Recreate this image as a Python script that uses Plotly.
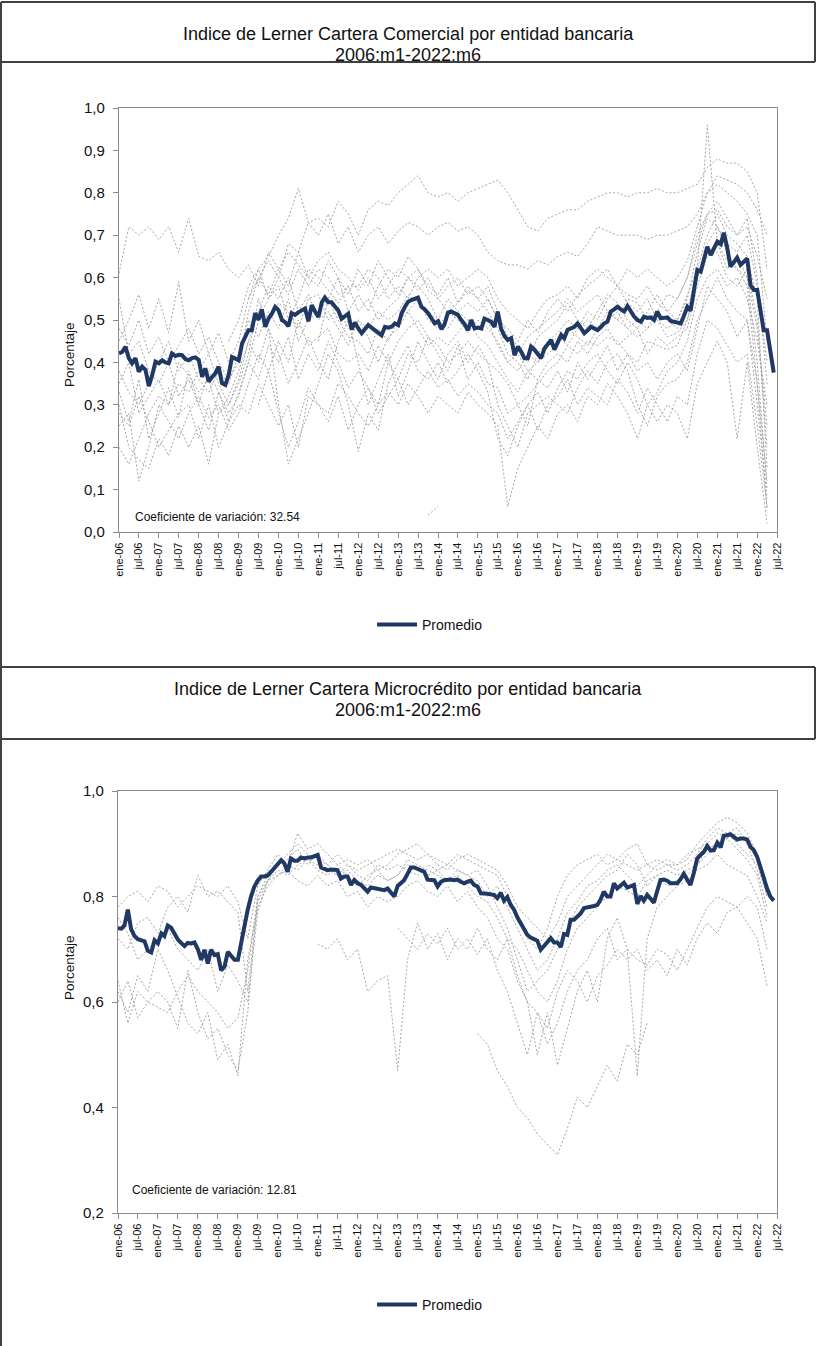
import pandas as pd
import plotly.graph_objects as go

# Monthly axis for the averages, quarterly axis for the individual banks
MESES = pd.date_range("2006-01-01", "2022-06-01", freq="MS")
TRIMESTRES = pd.date_range("2006-01-01", "2022-04-01", freq="QS")

TICK_FECHAS = pd.date_range("2006-01-01", "2022-07-01", freq="6MS")
TICK_LABELS = [f"{m}-{a:02d}" for a in range(6, 23) for m in ("ene", "jul")]

COEF_COM = "Coeficiente de variación: 32.54"
COEF_MIC = "Coeficiente de variación: 12.81"

# Promedio - cartera comercial (2006m1 - 2022m6)
PROM_COM = [
    0.421, 0.425, 0.437, 0.410, 0.398, 0.410, 0.378, 0.390, 0.382, 0.344, 0.370, 0.402,
    0.398, 0.405, 0.400, 0.398, 0.421, 0.415, 0.418, 0.417, 0.408, 0.405, 0.410, 0.412,
    0.406, 0.366, 0.386, 0.355, 0.365, 0.374, 0.390, 0.351, 0.347, 0.370, 0.413, 0.410,
    0.405, 0.445, 0.460, 0.476, 0.476, 0.516, 0.500, 0.525, 0.484, 0.503, 0.515, 0.531,
    0.523, 0.500, 0.495, 0.485, 0.516, 0.512, 0.518, 0.523, 0.527, 0.497, 0.535, 0.520,
    0.507, 0.542, 0.553, 0.542, 0.542, 0.532, 0.523, 0.503, 0.510, 0.515, 0.478, 0.494,
    0.480, 0.469, 0.478, 0.488, 0.482, 0.476, 0.470, 0.464, 0.484, 0.482, 0.484, 0.492,
    0.488, 0.516, 0.530, 0.543, 0.547, 0.550, 0.553, 0.531, 0.525, 0.516, 0.505, 0.492,
    0.497, 0.478, 0.490, 0.517, 0.520, 0.515, 0.512, 0.500, 0.490, 0.476, 0.500, 0.480,
    0.482, 0.480, 0.503, 0.500, 0.496, 0.484, 0.520, 0.479, 0.462, 0.453, 0.457, 0.417,
    0.437, 0.425, 0.410, 0.410, 0.437, 0.430, 0.421, 0.410, 0.433, 0.443, 0.453, 0.430,
    0.445, 0.465, 0.457, 0.477, 0.480, 0.484, 0.492, 0.480, 0.469, 0.476, 0.484, 0.480,
    0.476, 0.484, 0.492, 0.496, 0.520, 0.525, 0.531, 0.525, 0.520, 0.533, 0.520, 0.508,
    0.500, 0.496, 0.508, 0.505, 0.506, 0.500, 0.520, 0.504, 0.505, 0.506, 0.498, 0.496,
    0.494, 0.492, 0.510, 0.531, 0.522, 0.570, 0.618, 0.614, 0.645, 0.673, 0.653, 0.668,
    0.685, 0.679, 0.706, 0.670, 0.626, 0.636, 0.647, 0.630, 0.638, 0.645, 0.582, 0.571,
    0.571, 0.520, 0.476, 0.476, 0.426, 0.376,
]

# Promedio - cartera microcredito (2006m1 - 2022m6)
PROM_MIC = [
    0.740, 0.739, 0.745, 0.775, 0.738, 0.725, 0.719, 0.717, 0.715, 0.697, 0.694, 0.717,
    0.711, 0.730, 0.725, 0.745, 0.741, 0.730, 0.719, 0.712, 0.706, 0.712, 0.711, 0.713,
    0.700, 0.680, 0.699, 0.673, 0.699, 0.689, 0.691, 0.660, 0.667, 0.695, 0.688, 0.680,
    0.680, 0.715, 0.743, 0.775, 0.800, 0.819, 0.830, 0.838, 0.838, 0.840, 0.847, 0.855,
    0.862, 0.869, 0.863, 0.847, 0.872, 0.868, 0.868, 0.874, 0.872, 0.874, 0.874, 0.876,
    0.879, 0.855, 0.852, 0.850, 0.851, 0.850, 0.850, 0.834, 0.838, 0.838, 0.822, 0.831,
    0.825, 0.822, 0.815, 0.809, 0.817, 0.816, 0.815, 0.814, 0.812, 0.815, 0.808, 0.800,
    0.820, 0.825, 0.831, 0.843, 0.855, 0.855, 0.853, 0.850, 0.847, 0.832, 0.831, 0.831,
    0.819, 0.828, 0.831, 0.832, 0.832, 0.831, 0.832, 0.828, 0.825, 0.828, 0.830, 0.822,
    0.819, 0.806, 0.806, 0.805, 0.804, 0.803, 0.797, 0.807, 0.792, 0.799, 0.784, 0.775,
    0.760, 0.749, 0.738, 0.727, 0.722, 0.718, 0.716, 0.699, 0.706, 0.714, 0.721, 0.713,
    0.713, 0.704, 0.729, 0.727, 0.756, 0.756, 0.762, 0.768, 0.778, 0.779, 0.781, 0.782,
    0.784, 0.795, 0.809, 0.800, 0.800, 0.825, 0.815, 0.820, 0.826, 0.817, 0.820, 0.822,
    0.786, 0.801, 0.792, 0.803, 0.796, 0.788, 0.810, 0.831, 0.832, 0.830, 0.825, 0.825,
    0.825, 0.833, 0.843, 0.832, 0.822, 0.845, 0.872, 0.879, 0.885, 0.896, 0.887, 0.888,
    0.902, 0.893, 0.915, 0.916, 0.918, 0.913, 0.908, 0.910, 0.910, 0.908, 0.894, 0.888,
    0.875, 0.855, 0.835, 0.815, 0.800, 0.792,
]

# Entidades - cartera comercial (trimestral, 2006q1 - 2022q2)
COM_B01 = [0.61, 0.72, 0.70, 0.72, 0.69, 0.72, 0.66, 0.74, 0.65, 0.64, 0.66, 0.62,
           0.60, 0.63, 0.58, 0.66, 0.62, 0.66, 0.63, 0.60, 0.64, 0.66, 0.62, 0.60,
           0.57, 0.60, 0.55, 0.58, 0.62, 0.60, 0.57, 0.60, 0.55, 0.58, 0.60, 0.56,
           0.58, 0.55, 0.50, 0.48, 0.45, 0.50, 0.47, 0.52, 0.55, 0.52, 0.56, 0.58,
           0.60, 0.62, 0.58, 0.56, 0.55, 0.58, 0.54, 0.52, 0.55, 0.60, 0.70, 0.75,
           0.78, 0.74, 0.70, 0.72, 0.65, 0.55]
COM_B02 = [None] * 13 + [
           0.55, 0.62, 0.65, 0.70, 0.74, 0.81, 0.73, 0.74, 0.72, 0.78, 0.75,
           0.70, 0.76, 0.78, 0.77, 0.80, 0.82, 0.84, 0.80, 0.79, 0.80, 0.78, 0.80,
           0.81, 0.82, 0.83, 0.80, 0.76, 0.72, 0.71, 0.74, 0.75, 0.76, 0.76, 0.78,
           0.79, 0.80, 0.80, 0.79, 0.80, 0.80, 0.81, 0.80, 0.80, 0.81, 0.82, 0.86,
           0.88, 0.87, 0.87, 0.85, 0.80, 0.62]
COM_B03 = [0.45, 0.50, 0.56, 0.48, 0.55, 0.47, 0.59, 0.45, 0.50, 0.42, 0.47, 0.40,
           0.45, 0.55, 0.60, 0.64, 0.60, 0.68, 0.66, 0.73, 0.70, 0.75, 0.68, 0.72,
           0.66, 0.70, 0.72, 0.68, 0.71, 0.73, 0.72, 0.70, 0.72, 0.73, 0.71, 0.72,
           0.70, 0.66, 0.64, 0.63, 0.63, 0.62, 0.64, 0.63, 0.65, 0.66, 0.65, 0.68,
           0.72, 0.71, 0.70, 0.70, 0.70, 0.69, 0.70, 0.70, 0.71, 0.72, 0.75, 0.80,
           0.84, 0.83, 0.82, 0.80, 0.76, 0.70]
COM_B04 = [0.30, 0.20, 0.17, 0.15, 0.22, 0.18, 0.25, 0.20, 0.25, 0.16, 0.28, 0.30,
           0.36, 0.45, 0.40, 0.48, 0.30, 0.16, 0.22, 0.28, 0.35, 0.42, 0.38, 0.30,
           0.19, 0.28, 0.24, 0.35, 0.40, 0.44, 0.38, 0.36, 0.40, 0.35, 0.38, 0.42,
           0.38, 0.33, 0.22, 0.18, 0.25, 0.30, 0.33, 0.28, 0.34, 0.38, 0.36, 0.40,
           0.42, 0.38, 0.35, 0.40, 0.36, 0.30, 0.33, 0.38, 0.40, 0.45, 0.55, 0.60,
           0.62, 0.58, 0.60, 0.55, 0.45, 0.30]
COM_B05 = [0.25, 0.28, 0.12, 0.20, 0.30, 0.26, 0.22, 0.28, 0.32, 0.27, 0.30, 0.24,
           0.28, 0.35, 0.42, 0.38, 0.45, 0.40, 0.50, 0.44, 0.46, 0.48, 0.42, 0.40,
           0.42, 0.38, 0.44, 0.40, 0.45, 0.48, 0.50, 0.46, 0.44, 0.40, 0.42, 0.45,
           0.42, 0.40, 0.38, 0.35, 0.30, 0.32, 0.35, 0.38, 0.40, 0.44, 0.42, 0.45,
           0.44, 0.46, 0.45, 0.42, 0.40, 0.45, 0.44, 0.43, 0.44, 0.50, 0.60, 0.68,
           0.72, 0.66, 0.62, 0.58, 0.35, 0.05]
COM_B06 = [0.55, 0.42, 0.45, 0.38, 0.35, 0.40, 0.32, 0.36, 0.30, 0.38, 0.33, 0.26,
           0.33, 0.40, 0.50, 0.55, 0.58, 0.50, 0.55, 0.62, 0.60, 0.57, 0.54, 0.58,
           0.52, 0.55, 0.50, 0.53, 0.55, 0.60, 0.62, 0.57, 0.55, 0.52, 0.54, 0.58,
           0.55, 0.52, 0.48, 0.42, 0.40, 0.36, 0.42, 0.45, 0.47, 0.50, 0.48, 0.52,
           0.50, 0.55, 0.58, 0.54, 0.52, 0.55, 0.50, 0.48, 0.50, 0.56, 0.62, 0.70,
           0.75, 0.70, 0.68, 0.65, 0.55, 0.15]
COM_B07 = [0.38, 0.33, 0.30, 0.35, 0.40, 0.45, 0.38, 0.42, 0.36, 0.33, 0.38, 0.35,
           0.42, 0.50, 0.46, 0.52, 0.48, 0.55, 0.45, 0.50, 0.52, 0.55, 0.50, 0.46,
           0.45, 0.42, 0.48, 0.45, 0.50, 0.52, 0.55, 0.50, 0.48, 0.52, 0.50, 0.47,
           0.50, 0.48, 0.45, 0.40, 0.38, 0.42, 0.40, 0.44, 0.46, 0.44, 0.48, 0.50,
           0.48, 0.52, 0.50, 0.48, 0.46, 0.48, 0.52, 0.50, 0.48, 0.52, 0.62, 0.96,
           0.68, 0.62, 0.65, 0.60, 0.40, 0.10]
COM_B08 = [0.20, 0.16, 0.22, 0.28, 0.32, 0.30, 0.35, 0.33, 0.38, 0.42, 0.35, 0.30,
           0.35, 0.42, 0.55, 0.48, 0.42, 0.35, 0.40, 0.46, 0.40, 0.36, 0.45, 0.50,
           0.40, 0.30, 0.36, 0.42, 0.32, 0.38, 0.45, 0.40, 0.36, 0.42, 0.45, 0.40,
           0.44, 0.40, 0.30, 0.25, 0.20, 0.28, 0.30, 0.32, 0.30, 0.28, 0.34, 0.38,
           0.35, 0.40, 0.42, 0.38, 0.30, 0.25, 0.32, 0.35, 0.36, 0.40, 0.50, 0.55,
           0.60, 0.55, 0.52, 0.50, 0.30, 0.08]
COM_B09 = [None] * 11 + [
           0.45, 0.50, 0.58, 0.62, 0.55, 0.60, 0.56, 0.62, 0.58, 0.62, 0.60, 0.56, 0.58,
           0.58, 0.62, 0.60, 0.55, 0.58, 0.55, 0.60, 0.62, 0.60, 0.62, 0.58, 0.60,
           0.62, 0.60, 0.55, 0.52, 0.50, 0.48, 0.52, 0.55, 0.56, 0.58, 0.55, 0.60,
           0.62, 0.60, 0.58, 0.62, 0.60, 0.62, 0.60, 0.58, 0.60, 0.64, 0.72, 0.80,
           0.82, 0.80, 0.78, 0.75, 0.70, 0.45]
COM_B10 = [0.28, 0.25, 0.32, 0.26, 0.20, 0.24, 0.28, 0.30, 0.22, 0.30, 0.20, 0.26,
           0.30, 0.28, 0.35, 0.30, 0.25, 0.30, 0.20, 0.32, 0.30, 0.28, 0.35, 0.32,
           0.28, 0.25, 0.30, 0.33, 0.30, 0.35, 0.32, 0.28, 0.32, 0.30, 0.28, 0.33,
           0.30, 0.28, 0.25, 0.06, 0.15, 0.20, 0.25, 0.22, 0.28, 0.30, 0.26, 0.32,
           0.30, 0.35, 0.32, 0.28, 0.22, 0.30, 0.26, 0.30, 0.28, 0.22, 0.35, 0.40,
           0.45, 0.40, 0.22, 0.40, 0.20, 0.02]
COM_B11 = [None] * 20 + [
           0.45, 0.55, 0.60, 0.56, 0.62, 0.58, 0.64, 0.60, 0.56, 0.60, 0.58, 0.55,
           0.50, 0.55, 0.52, 0.54, 0.52, 0.55, 0.50, 0.45, 0.42, 0.46, 0.48, 0.50,
           0.52, 0.55, 0.52, 0.54, 0.56, 0.52, 0.50, 0.55, 0.54, 0.50, 0.52, 0.56,
           0.55, 0.60, 0.68, 0.75, 0.76, 0.72, 0.70, 0.74, 0.60, 0.35]
COM_B12 = [None] * 31 + [0.04, 0.06] + [None] * 33
COM_B13 = [0.35, 0.40, 0.28, 0.32, 0.36, 0.30, 0.40, 0.37, 0.33, 0.36, 0.28, 0.32,
           0.38, 0.45, 0.52, 0.58, 0.55, 0.60, 0.52, 0.56, 0.50, 0.52, 0.48, 0.44,
           0.50, 0.46, 0.40, 0.46, 0.48, 0.52, 0.48, 0.44, 0.46, 0.44, 0.47, 0.50,
           0.46, 0.44, 0.40, 0.36, 0.33, 0.38, 0.36, 0.40, 0.42, 0.40, 0.45, 0.42,
           0.46, 0.48, 0.44, 0.46, 0.48, 0.42, 0.46, 0.44, 0.46, 0.48, 0.58, 0.65,
           0.66, 0.60, 0.58, 0.62, 0.50, 0.20]
COM_B14 = [0.33, 0.26, 0.36, 0.22, 0.28, 0.34, 0.27, 0.38, 0.30, 0.24, 0.33, 0.28,
           0.32, 0.40, 0.36, 0.44, 0.40, 0.46, 0.36, 0.42, 0.38, 0.45, 0.40, 0.34,
           0.38, 0.34, 0.30, 0.40, 0.36, 0.42, 0.40, 0.46, 0.42, 0.38, 0.44, 0.36,
           0.40, 0.35, 0.34, 0.28, 0.30, 0.25, 0.36, 0.34, 0.38, 0.33, 0.40, 0.36,
           0.40, 0.44, 0.38, 0.42, 0.38, 0.40, 0.36, 0.40, 0.42, 0.38, 0.48, 0.58,
           0.55, 0.52, 0.46, 0.50, 0.35, 0.12]
COM_B15 = [None] * 12 + [
           0.40, 0.52, 0.60, 0.56, 0.62, 0.58, 0.66, 0.60, 0.58, 0.64, 0.60, 0.52,
           0.56, 0.52, 0.58, 0.62, 0.60, 0.65, 0.62, 0.58, 0.56, 0.60, 0.54, 0.57,
           0.55, 0.58, 0.52, 0.46, 0.44, 0.40, 0.46, 0.48, 0.50, 0.54, 0.50, 0.48,
           0.52, 0.56, 0.54, 0.50, 0.48, 0.52, 0.56, 0.52, 0.50, 0.55, 0.66, 0.74,
           0.72, 0.68, 0.66, 0.70, 0.58, 0.40]
COM_B16 = [None] * 14 + [
           0.30, 0.38, 0.28, 0.20, 0.26, 0.34, 0.30, 0.26, 0.32, 0.24,
           0.30, 0.34, 0.28, 0.32, 0.36, 0.30, 0.34, 0.38, 0.34, 0.36, 0.32, 0.35,
           0.33, 0.30, 0.28, 0.22, 0.26, 0.30, 0.24, 0.30, 0.32, 0.36, 0.30, 0.34,
           0.32, 0.30, 0.36, 0.33, 0.28, 0.34, 0.30, 0.26, 0.32, 0.30, 0.42, 0.50,
           0.48, 0.44, 0.40, 0.42, 0.25, 0.06]
COM_B17 = [0.48, 0.44, 0.50, 0.42, 0.46, 0.40, 0.44, 0.48, 0.42, 0.46, 0.40, 0.36,
           0.40, 0.48, 0.52, 0.50, 0.54, 0.52, 0.48, 0.55, 0.56, 0.50, 0.53, 0.48,
           0.50, 0.48, 0.52, 0.50, 0.52, 0.56, 0.54, 0.52, 0.50, 0.48, 0.52, 0.50,
           0.48, 0.50, 0.44, 0.40, 0.42, 0.38, 0.40, 0.42, 0.44, 0.48, 0.46, 0.44,
           0.48, 0.50, 0.52, 0.48, 0.50, 0.48, 0.50, 0.46, 0.47, 0.50, 0.60, 0.66,
           0.68, 0.64, 0.62, 0.60, 0.48, 0.25]

# Entidades - cartera microcredito (trimestral, 2006q1 - 2022q2)
MIC_B01 = [None] * 36 + [
           0.54, 0.52, 0.47, 0.44, 0.40, 0.38, 0.35, 0.33, 0.31, 0.36, 0.42, 0.40,
           0.44, 0.48, 0.45, 0.52, 0.50, 0.56] + [None] * 12
MIC_B02 = [None] * 20 + [
           0.71, 0.70, 0.72, 0.68, 0.70, 0.62, 0.64, 0.65, 0.47, 0.68, 0.75, 0.70,
           0.73, 0.68, 0.72, 0.70, 0.74, 0.70, 0.68, 0.72, 0.65, 0.60, 0.58, 0.55,
           0.62, 0.66, 0.64, 0.60, 0.65, 0.67, 0.70, 0.68, 0.70, 0.66, 0.68, 0.65,
           0.70, 0.67, 0.72, 0.75, 0.73, 0.77, 0.78, 0.75, 0.72, 0.63]
MIC_B03 = [0.60, 0.64, 0.57, 0.60, 0.62, 0.60, 0.55, 0.66, 0.58, 0.53, 0.55, 0.50,
           0.47, 0.58, 0.80, 0.84, 0.86, 0.88, 0.90, 0.88, 0.87, 0.86, 0.88, 0.86,
           0.85, 0.86, 0.87, 0.88, 0.89, 0.88, 0.87, 0.88, 0.87, 0.86, 0.88, 0.87,
           0.86, 0.85, 0.84, 0.80, 0.76, 0.72, 0.70, 0.74, 0.80, 0.84, 0.86, 0.87,
           0.88, 0.86, 0.87, 0.86, 0.85, 0.86, 0.87, 0.86, 0.86, 0.87, 0.90, 0.92,
           0.94, 0.95, 0.94, 0.92, 0.88, 0.80]
MIC_B04 = [0.78, 0.80, 0.81, 0.79, 0.82, 0.81, 0.78, 0.80, 0.82, 0.81, 0.80, 0.82,
           0.79, 0.72, 0.82, 0.85, 0.88, 0.86, 0.92, 0.89, 0.90, 0.88, 0.86, 0.87,
           0.86, 0.87, 0.85, 0.86, 0.88, 0.89, 0.90, 0.88, 0.86, 0.85, 0.87, 0.88,
           0.87, 0.86, 0.85, 0.82, 0.78, 0.76, 0.74, 0.72, 0.75, 0.80, 0.82, 0.84,
           0.86, 0.88, 0.87, 0.89, 0.90, 0.86, 0.85, 0.86, 0.85, 0.86, 0.88, 0.91,
           0.93, 0.92, 0.93, 0.90, 0.85, 0.78]
MIC_B05 = [0.72, 0.70, 0.75, 0.76, 0.73, 0.78, 0.80, 0.77, 0.84, 0.80, 0.81, 0.79,
           0.77, 0.62, 0.79, 0.83, 0.85, 0.84, 0.86, 0.87, 0.85, 0.84, 0.86, 0.84,
           0.82, 0.84, 0.85, 0.83, 0.84, 0.86, 0.85, 0.84, 0.85, 0.86, 0.85, 0.84,
           0.85, 0.82, 0.78, 0.74, 0.68, 0.62, 0.64, 0.66, 0.70, 0.74, 0.78, 0.80,
           0.82, 0.84, 0.85, 0.88, 0.86, 0.82, 0.84, 0.85, 0.84, 0.85, 0.86, 0.88,
           0.90, 0.92, 0.90, 0.88, 0.86, 0.80]
MIC_B06 = [0.62, 0.58, 0.65, 0.62, 0.70, 0.66, 0.61, 0.56, 0.54, 0.58, 0.49, 0.52,
           0.46, 0.68, 0.78, 0.82, 0.84, 0.85, 0.83, 0.82, 0.84, 0.82, 0.83, 0.80,
           0.81, 0.78, 0.80, 0.79, 0.80, 0.82, 0.83, 0.81, 0.80, 0.82, 0.79, 0.81,
           0.78, 0.76, 0.72, 0.70, 0.64, 0.60, 0.50, 0.58, 0.48, 0.55, 0.62, 0.66,
           0.60, 0.72, 0.76, 0.70, 0.46, 0.72, 0.78, 0.80, 0.82, 0.83, 0.85, 0.86,
           0.88, 0.86, 0.85, 0.84, 0.80, 0.75]
MIC_B07 = [0.76, 0.73, 0.68, 0.70, 0.72, 0.74, 0.70, 0.68, 0.66, 0.70, 0.62, 0.67,
           0.64, 0.60, 0.77, 0.83, 0.86, 0.87, 0.89, 0.86, 0.88, 0.86, 0.84, 0.85,
           0.83, 0.82, 0.84, 0.83, 0.84, 0.87, 0.86, 0.85, 0.84, 0.83, 0.85, 0.84,
           0.83, 0.80, 0.82, 0.78, 0.74, 0.70, 0.66, 0.68, 0.72, 0.77, 0.79, 0.82,
           0.83, 0.85, 0.86, 0.84, 0.82, 0.84, 0.86, 0.87, 0.86, 0.88, 0.89, 0.90,
           0.92, 0.91, 0.92, 0.90, 0.87, 0.83]
MIC_B08 = [None] * 28 + [
           0.74, 0.72, 0.70, 0.73, 0.71, 0.74, 0.70, 0.72, 0.69, 0.72, 0.66, 0.62,
           0.56, 0.50, 0.58, 0.52, 0.56, 0.62, 0.66, 0.68, 0.72, 0.74, 0.68, 0.70,
           0.68, 0.67, 0.70, 0.69, 0.66, 0.70, 0.74, 0.78, 0.80, 0.79, 0.78, 0.80,
           0.78, 0.70]
MIC_B09 = [0.64, 0.56, 0.62, 0.60, 0.59, 0.58, 0.62, 0.65, 0.62, 0.60, 0.58, 0.55,
           0.57, 0.66, 0.80, 0.83, 0.84, 0.86, 0.85, 0.87, 0.86, 0.85, 0.84, 0.86,
           0.84, 0.83, 0.86, 0.85, 0.86, 0.85, 0.84, 0.86, 0.85, 0.83, 0.84, 0.82,
           0.80, 0.79, 0.76, 0.72, 0.70, 0.66, 0.62, 0.60, 0.64, 0.70, 0.74, 0.76,
           0.78, 0.80, 0.82, 0.81, 0.80, 0.83, 0.84, 0.82, 0.83, 0.84, 0.86, 0.89,
           0.90, 0.91, 0.89, 0.87, 0.84, 0.76]

ENT_COM = [COM_B01, COM_B02, COM_B03, COM_B04, COM_B05, COM_B06, COM_B07, COM_B08,
           COM_B09, COM_B10, COM_B11, COM_B12, COM_B13, COM_B14, COM_B15, COM_B16,
           COM_B17]
ENT_MIC = [MIC_B01, MIC_B02, MIC_B03, MIC_B04, MIC_B05, MIC_B06, MIC_B07,
           MIC_B08, MIC_B09]

W, H = 816, 1346
FONT = "Liberation Sans, Arial, sans-serif"
AZUL = "#1F3864"
GRIS = "#a6a6a6"
EJE = "#8c8c8c"
BORDE = "#404040"


def px(x):
    return x / W


def py(y):
    return 1 - y / H


fig = go.Figure()

for serie in ENT_COM:
    fig.add_trace(go.Scatter(x=TRIMESTRES, y=serie, mode="lines", showlegend=False,
                             line=dict(color=GRIS, width=1, dash="2px,2px"),
                             hoverinfo="skip", xaxis="x", yaxis="y"))
fig.add_trace(go.Scatter(x=MESES, y=PROM_COM, mode="lines", name="Promedio",
                         line=dict(color=AZUL, width=4), xaxis="x", yaxis="y",
                         legend="legend"))

for serie in ENT_MIC:
    fig.add_trace(go.Scatter(x=TRIMESTRES, y=serie, mode="lines", showlegend=False,
                             line=dict(color=GRIS, width=1, dash="2px,2px"),
                             hoverinfo="skip", xaxis="x2", yaxis="y2"))
fig.add_trace(go.Scatter(x=MESES, y=PROM_MIC, mode="lines", name="Promedio",
                         line=dict(color=AZUL, width=4), xaxis="x2", yaxis="y2",
                         legend="legend2"))

xcomun = dict(type="date", range=["2006-01-01", "2022-07-01"],
              tickmode="array", tickvals=TICK_FECHAS, ticktext=TICK_LABELS,
              tickangle=-90, ticks="outside", ticklen=5, tickcolor=EJE,
              showline=True, linecolor=EJE, linewidth=1.3, mirror=True,
              showgrid=False, zeroline=False, automargin=False,
              tickfont=dict(family=FONT, size=11, color="#111"))
ycomun = dict(ticks="outside", ticklen=5, tickcolor=EJE, tickformat=".1f",
              ticklabelstandoff=5,
              showline=True, linecolor=EJE, linewidth=1.3, mirror=True,
              showgrid=False, zeroline=False, automargin=False,
              tickfont=dict(family=FONT, size=15, color="#111"))

leyenda = dict(orientation="h", xanchor="left", yanchor="middle",
               bgcolor="rgba(0,0,0,0)", itemwidth=40,
               font=dict(family=FONT, size=14, color="#111"))

lineas = [
    (1, 2, 1, H), (1, 2, 815, 2), (815, 2, 815, 62),
    (1, 62, 815, 62), (1, 667, 815, 667), (815, 667, 815, 739),
    (1, 739, 815, 739),
]
shapes = [dict(type="line", xref="paper", yref="paper",
               x0=px(a), y0=py(b), x1=px(c), y1=py(d),
               line=dict(color=BORDE, width=2)) for a, b, c, d in lineas]


def texto(t, x, y, size, **kw):
    return dict(text=t, x=px(x), y=py(y), xref="paper", yref="paper",
                showarrow=False, font=dict(family=FONT, size=size, color="#111"), **kw)


annotations = [
    texto("Indice de Lerner Cartera Comercial por entidad bancaria", 408, 22, 18),
    texto("2006:m1-2022:m6", 408, 43, 18),
    texto("Indice de Lerner Cartera Microcrédito por entidad bancaria", 408, 689, 18),
    texto("2006:m1-2022:m6", 408, 710, 18),
    texto("Porcentaje", 60, 320, 13.5, textangle=-90),
    texto("Porcentaje", 60, 1002, 13.5, textangle=-90),
    texto(COEF_COM, 133, 517, 12, xanchor="left"),
    texto(COEF_MIC, 130, 1199, 12, xanchor="left"),
]

fig.update_layout(
    width=W, height=H,
    margin=dict(l=0, r=0, t=0, b=0, pad=0, autoexpand=False),
    paper_bgcolor="white", plot_bgcolor="white",
    separators=",.",
    font=dict(family=FONT, color="#111"),
    xaxis=dict(domain=[px(119), px(777)], anchor="y", **xcomun),
    yaxis=dict(domain=[py(532), py(108)], anchor="x", range=[0, 1], dtick=0.1, **ycomun),
    xaxis2=dict(domain=[px(118), px(777)], anchor="y2", **xcomun),
    yaxis2=dict(domain=[py(1213), py(791)], anchor="x2", range=[0.2, 1.0], dtick=0.2, **ycomun),
    legend=dict(x=px(372), y=py(625), **leyenda),
    legend2=dict(x=px(372), y=py(1305), **leyenda),
    shapes=shapes,
    annotations=annotations,
)

# Pin the plot to the top-left corner of the page
fig.write_html("out.html",
               config={"displayModeBar": False},
               post_script="document.body.style.margin='0px';"
                           "document.body.style.overflow='hidden';"
                           "var d=document.getElementById('{plot_id}');"
                           "d.style.position='fixed';d.style.left='0px';d.style.top='0px';")
